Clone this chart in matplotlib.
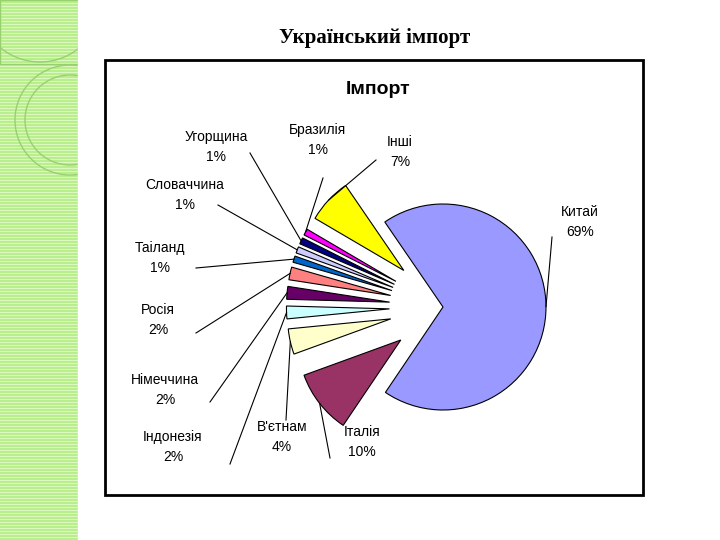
import numpy as np
import matplotlib
matplotlib.use('Agg')
import matplotlib.pyplot as plt
from matplotlib.patches import Rectangle, Circle

# Import shares, counter-clockwise from China
countries = ['Китай', 'Інші', 'Бразилія', 'Угорщина', 'Словаччина', 'Таіланд',
             'Росія', 'Німеччина', 'Індонезія', "В'єтнам", 'Італія']
shares = [69, 7, 1, 1, 1, 1, 2, 2, 2, 4, 10]
colors = ['#9999FF', '#FFFF00', '#FF00FF', '#000080', '#CCCCFF', '#0066CC',
          '#FF8080', '#660066', '#CCFFFF', '#FFFFCC', '#993366']

# label text spots (pixel coords, y from top)
label_pos = {
    'Китай': (580, 222), 'Інші': (400, 152), 'Бразилія': (318, 140),
    'Угорщина': (216, 147), 'Словаччина': (185, 195), 'Таіланд': (160, 258),
    'Росія': (158, 320), 'Німеччина': (165, 390), 'Індонезія': (173, 447),
    "В'єтнам": (282, 437), 'Італія': (362, 442),
}
line_start = {
    'Китай': (552, 237), 'Інші': (376, 160), 'Бразилія': (323, 178),
    'Угорщина': (250, 153), 'Словаччина': (218, 205), 'Таіланд': (196, 268),
    'Росія': (196, 333), 'Німеччина': (210, 402), 'Індонезія': (230, 464),
    "В'єтнам": (286, 420), 'Італія': (330, 458),
}

fig = plt.figure(figsize=(7.2, 5.4), dpi=100)
ax = fig.add_axes([0, 0, 1, 1])

# green decorative strip
ax.add_patch(Rectangle((0, 0), 78, 540, color='#b9ee8c', zorder=0))
for y in np.arange(0, 540, 3):
    ax.plot([0, 78], [y, y], color='#def8c2', lw=0.7, zorder=1)
ax.add_patch(Rectangle((0, 476), 78, 64, fill=False, ec='#98d070', lw=1, zorder=2))
ax.add_patch(Circle((40, 540), 62, fill=False, ec='#98d070', lw=1, zorder=2))
ax.add_patch(Circle((70, 420), 55, fill=False, ec='#98d070', lw=1, zorder=2))
ax.add_patch(Circle((70, 420), 45, fill=False, ec='#98d070', lw=1, zorder=2))
ax.add_patch(Rectangle((78, 0), 642, 540, color='white', zorder=3))

fig.text(375 / 720, 1 - 38 / 540, 'Український імпорт', ha='center', va='center',
         fontsize=15, fontweight='bold', family='Liberation Serif')

# chart box
ax.add_patch(Rectangle((105, 540 - 495), 538, 435, fill=False, ec='black', lw=2, zorder=4))
ax.text(378, 540 - 90, 'Імпорт', ha='center', va='center', fontsize=14,
        fontweight='bold', family='Liberation Sans', zorder=5)

cx, cy, r = 443, 540 - 307, 103
explode = [0] + [0.52 * r] * (len(shares) - 1)
wedges, _ = ax.pie(shares, colors=colors, startangle=-124, counterclock=True,
                   center=(cx, cy), radius=r, explode=explode, frame=True,
                   wedgeprops=dict(edgecolor='black', linewidth=0.8, zorder=5))
ax.set_xlim(0, 720)
ax.set_ylim(0, 540)
ax.axis('off')

for w, name, val in zip(wedges, countries, shares):
    ang = np.deg2rad((w.theta1 + w.theta2) / 2)
    wx, wy = w.center
    px, py = wx + r * np.cos(ang), wy + r * np.sin(ang)
    tx, ty = label_pos[name]
    ax.text(tx, 540 - ty, f'{name}\n{val}%', ha='center', va='center',
            fontsize=10, family='Liberation Sans', linespacing=1.5, zorder=6)
    sx, sy = line_start[name]
    ax.plot([sx, px], [540 - sy, py], color='black', lw=0.8, zorder=6)

fig.savefig('out.png', dpi=100)
